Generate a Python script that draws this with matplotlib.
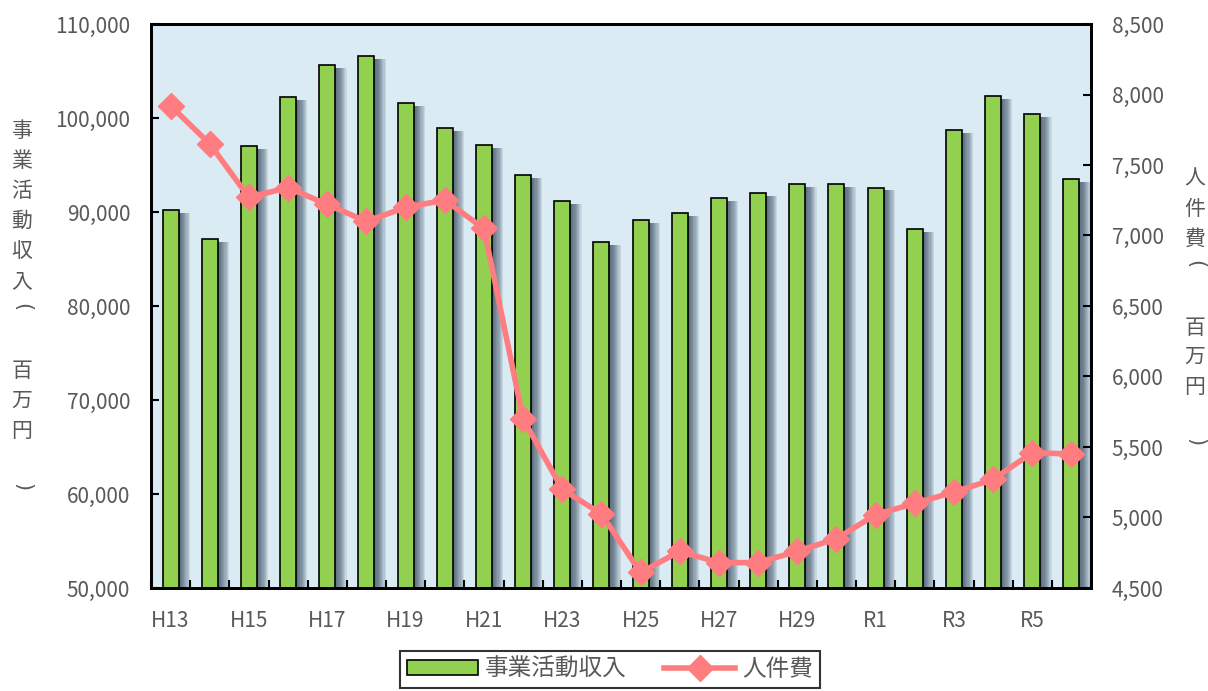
import numpy as np
import matplotlib
matplotlib.use("Agg")
from matplotlib import pyplot as plt
from matplotlib.lines import Line2D
from matplotlib.patches import Patch

plt.rcParams['font.family'] = ['Noto Sans CJK JP', 'DejaVu Sans']

years = ['H13', 'H14', 'H15', 'H16', 'H17', 'H18', 'H19', 'H20', 'H21', 'H22',
         'H23', 'H24', 'H25', 'H26', 'H27', 'H28', 'H29', 'H30',
         'R1', 'R2', 'R3', 'R4', 'R5', 'R6']
income = [90200, 87100, 97000, 102200, 105600, 106600, 101600, 98900, 97100, 93900,
          91200, 86800, 89100, 89900, 91500, 92000, 93000, 93000,
          92600, 88200, 98700, 102300, 100400, 93500]
personnel = [7920, 7650, 7270, 7340, 7220, 7100, 7200, 7250, 7050, 5700,
             5200, 5025, 4610, 4760, 4680, 4680, 4760, 4850,
             5020, 5100, 5180, 5270, 5460, 5450]

bar_green = '#92D050'
line_pink = '#FF7C80'
label_gray = '#595959'

fig = plt.figure(figsize=(12.08, 6.91), dpi=100)
ax = fig.add_axes([151 / 1208, 1 - 588 / 691, 940 / 1208, 564 / 691])
ax.set_facecolor('#DAEBF3')

x = np.arange(len(years))
w = 0.41

# soft shadow to the right of each bar
for k in range(10):
    ax.bar(x + 0.02 + k * 0.03, np.array(income) - 300, w, bottom=0,
           color='#1B2F45', alpha=0.1, linewidth=0, zorder=1)
ax.bar(x, income, w, color=bar_green, edgecolor='black', linewidth=1.2, zorder=2)

ax.set_xlim(-0.5, len(years) - 0.5)
ax.set_ylim(50000, 110000)
ax.set_yticks(np.arange(50000, 110001, 10000))
ax.set_yticklabels([f'{v:,}' for v in range(50000, 110001, 10000)])
ax.set_xticks(x[::2])
ax.set_xticklabels(years[::2])
ax.set_xticks(np.arange(-0.5, len(years), 1), minor=True)
ax.tick_params(axis='x', which='major', length=0, pad=16)
ax.tick_params(axis='x', which='minor', direction='in', length=6, width=1.5)
ax.tick_params(axis='y', direction='in', length=6, width=1.5, pad=15)
ax.tick_params(labelsize=15, labelcolor=label_gray)
for s in ax.spines.values():
    s.set_linewidth(2)

ax2 = ax.twinx()
ax2.plot(x, personnel, color=line_pink, linewidth=4, marker='D', markersize=13,
         zorder=5, clip_on=False)
ax2.set_ylim(4500, 8500)
ax2.set_yticks(np.arange(4500, 8501, 500))
ax2.set_yticklabels([f'{v:,}' for v in range(4500, 8501, 500)])
ax2.tick_params(axis='y', direction='in', length=6, width=1.5, pad=15,
                labelsize=15, labelcolor=label_gray)
for s in ax2.spines.values():
    s.set_linewidth(2)


def vertical_label(text, xpix, ytop, pitch):
    # write text top-to-bottom, one character per cell, brackets turned sideways
    for i, ch in enumerate(text):
        if ch == ' ':
            continue
        ypix = ytop + i * pitch
        if ch in '()':
            fig.text(xpix / 1208, 1 - (ypix - 4) / 691, ch, ha='center', va='center',
                     fontsize=15, color=label_gray, rotation=-90, family='DejaVu Sans')
        else:
            fig.text(xpix / 1208, 1 - ypix / 691, ch, ha='center', va='center',
                     fontsize=15, color=label_gray)


vertical_label('事業活動収入( 百万円 )', 22, 131, 30)
vertical_label('人件費( 百万円 )', 1195, 179, 29.7)

handles = [Patch(facecolor=bar_green, edgecolor='black', linewidth=1.2),
           Line2D([], [], color=line_pink, linewidth=4, marker='D', markersize=13)]
leg = fig.legend(handles, ['事業活動収入', '人件費'], loc='upper center',
                 bbox_to_anchor=(610 / 1208, 1 - 651 / 691), ncol=2,
                 frameon=True, fancybox=False, edgecolor='black',
                 fontsize=17, handlelength=3.0, handleheight=0.6, columnspacing=1.6,
                 handletextpad=0.3, borderpad=0.3, borderaxespad=0)
leg.get_frame().set_linewidth(1.5)
for t in leg.get_texts():
    t.set_color(label_gray)

fig.savefig('out.png', dpi=100)
